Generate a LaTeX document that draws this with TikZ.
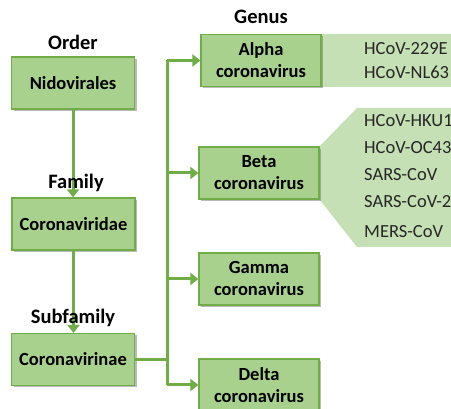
\documentclass[tikz,border=0pt]{standalone}
\usepackage{fontspec}
\setmainfont{Carlito}
\usetikzlibrary{arrows.meta, shadows, calc, backgrounds}
\definecolor{boxgreen}{RGB}{169,209,142}
\definecolor{linegreen}{RGB}{112,173,71}
\definecolor{palegreen}{RGB}{197,224,180}
\tikzset{
    taxon/.style={draw=linegreen, line width=1.2pt, fill=boxgreen, minimum width=#1, minimum height=52pt, inner sep=0pt, align=center, font=\fontsize{18.5}{22}\selectfont\bfseries, drop shadow={shadow xshift=2pt, shadow yshift=-2pt, opacity=0.45, fill=black!60}},
    taxon/.default=123pt,
    rank/.style={font=\fontsize{20.5}{24}\selectfont\bfseries},
    species/.style={anchor=west, inner sep=0pt, text=black!85, font=\fontsize{18.5}{22}\selectfont},
    link/.style={linegreen, line width=3pt, -{Triangle[length=8pt, width=12pt]}},
    trunk/.style={linegreen, line width=3pt}
}
\begin{document}
\begin{tikzpicture}[x=1pt, y=1pt]
    \useasboundingbox (0,0) rectangle (451,409);
    \coordinate (rim) at (451,0);
    % Nodes
    \node[taxon] (nido) at (73,326) {Nidovirales};
    \node[taxon] (viridae) at (73.5,185) {Coronaviridae};
    \node[taxon] (virinae) at (73,49.5) {Coronavirinae};
    \node[taxon=120pt] (alpha) at (261,348.5) {Alpha\\coronavirus};
    \node[taxon=120pt] (beta) at (259,236) {Beta\\coronavirus};
    \node[taxon=120pt] (gamma) at (259,130) {Gamma\\coronavirus};
    \node[taxon=120pt] (delta) at (259,24) {Delta\\coronavirus};
    % Species panels
    \begin{scope}[on background layer]
    \fill[palegreen] (alpha.north east) rectangle (alpha.south -| rim);
    \fill[palegreen] (beta.north east) -- (357,301) -- (451,301) -- (451,162) -- (357,162) -- (beta.south east) -- cycle;
    \end{scope}
    \node[species] (s229e) at (364,360) {HCoV-229E};
    \node[species] (snl63) at (364,337) {HCoV-NL63};
    \node[species] (shku1) at (364,288) {HCoV-HKU1};
    \node[species] (soc43) at (364,261) {HCoV-OC43};
    \node[species] (ssars) at (364,234) {SARS-CoV};
    \node[species] (ssars2) at (364,207) {SARS-CoV-2};
    \node[species] (smers) at (364,177) {MERS-CoV};
    % Vertical arrows
    \draw[link] (nido.south) -- (nido.south |- viridae.north);
    \draw[link] (viridae.south) -- (viridae.south |- virinae.north);
    % Branching to genera
    \coordinate (split) at ($(virinae.east)+(32,0)$);
    \draw[trunk] (virinae.east) -- (split);
    \draw[trunk] (split |- alpha.west) -- (split |- delta.west);
    \draw[link] (split |- alpha.west) -- (alpha.west);
    \draw[link] (split |- beta.west) -- (beta.west);
    \draw[link] (split |- gamma.west) -- (gamma.west);
    \draw[link] (split |- delta.west) -- (delta.west);
    % Ranks
    \node[rank] (order) at (73,367) {Order};
    \node[rank] (family) at (76,226) {Family};
    \node[rank] (subfamily) at (73,91) {Subfamily};
    \node[rank] (genus) at (261,392) {Genus};
\end{tikzpicture}
\end{document}
